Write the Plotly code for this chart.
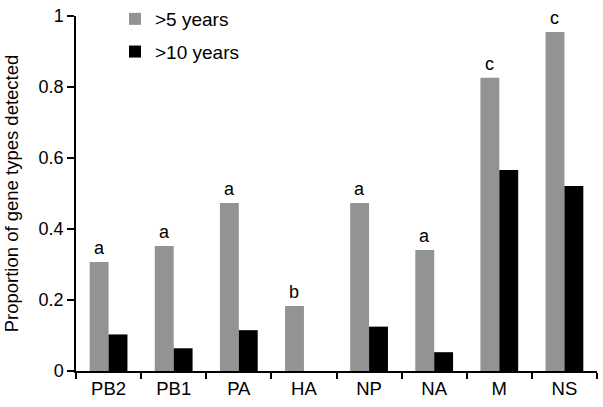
import plotly.graph_objects as go

categories = ["PB2", "PB1", "PA", "HA", "NP", "NA", "M", "NS"]
over5 = [0.307, 0.352, 0.473, 0.183, 0.473, 0.341, 0.826, 0.955]
over10 = [0.103, 0.064, 0.115, 0.0, 0.125, 0.053, 0.566, 0.521]
letters = ["a", "a", "a", "b", "a", "a", "c", "c"]
yticks = [0, 0.2, 0.4, 0.6, 0.8, 1]
yticklabels = ["0", "0.2", "0.4", "0.6", "0.8", "1"]

FONT = "Liberation Sans, Arial, sans-serif"

fig = go.Figure()
fig.add_trace(go.Bar(x=categories, y=over5, name=">5 years",
                     marker=dict(color="#939393", line=dict(width=0)),
                     legendgroup="g1"))
fig.add_trace(go.Bar(x=categories, y=over10, name=">10 years",
                     marker=dict(color="#000000", line=dict(width=0)),
                     legendgroup="g2"))

for c, v, t in zip(categories, over5, letters):
    fig.add_annotation(x=c, y=v, text=t, showarrow=False, xref="x", yref="y",
                       xshift=-9.5, yshift=2, yanchor="bottom",
                       font=dict(size=18, color="black", family=FONT))

fig.update_layout(
    width=603, height=407,
    margin=dict(l=76, r=6, t=16, b=36, autoexpand=False),
    plot_bgcolor="white", paper_bgcolor="white",
    barmode="group", bargap=0.42, bargroupgap=0,
    font=dict(family=FONT, size=18, color="black"),
    showlegend=True,
    legend=dict(x=(115 - 76) / 521, y=1 + 16 / 355, xanchor="left", yanchor="top",
                bgcolor="rgba(0,0,0,0)", font=dict(size=19),
                traceorder="grouped", tracegroupgap=5),
    xaxis=dict(showline=True, linecolor="black", linewidth=1.5,
               ticks="outside", tickson="boundaries", ticklen=6,
               tickcolor="black", tickwidth=1.5, automargin=False,
               tickfont=dict(size=18.5), showgrid=False, zeroline=False),
    yaxis=dict(range=[0, 1], showline=True, linecolor="black", linewidth=1.5,
               ticks="outside", ticklen=7, tickcolor="black", tickwidth=1.5,
               tickvals=yticks, ticktext=yticklabels, tickfont=dict(size=18),
               showgrid=False, zeroline=False, automargin=False,
               title=dict(text="Proportion of gene types detected",
                          font=dict(size=18.5))),
)

fig.write_html("out.html", config={"displayModeBar": False},
               post_script="document.body.style.margin='0';")
